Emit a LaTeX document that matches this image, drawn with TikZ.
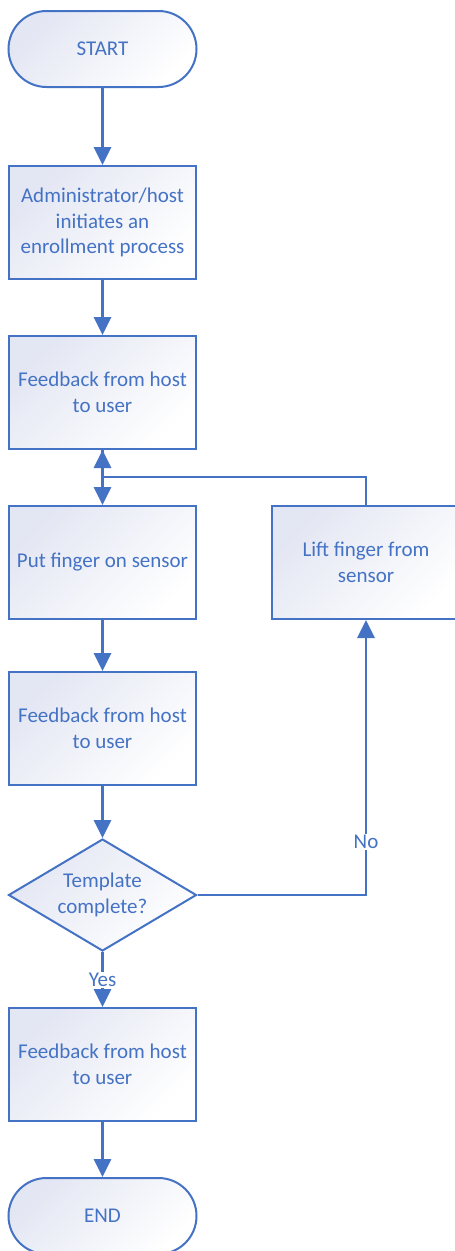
\documentclass[tikz,border=0pt]{standalone}
\usepackage{fontspec}
\setmainfont{Carlito}
\usetikzlibrary{arrows.meta,shapes.geometric}
\definecolor{ofblue}{HTML}{4472C4}
\definecolor{shadeA}{HTML}{E3E6F3}
\tikzset{
  base/.style={draw=ofblue, line width=2pt, text=ofblue, align=center,
    top color=shadeA, bottom color=white, shading angle=45,
    font=\fontsize{21}{25.6}\selectfont, inner sep=0pt},
  procbox/.style={base, rectangle, minimum width=187pt, minimum height=113pt},
  termbox/.style={base, rectangle, rounded corners=38pt, minimum width=188pt, minimum height=76pt},
  decbox/.style={base, diamond, aspect=1.68, minimum width=188pt, minimum height=112pt},
  conn/.style={draw=ofblue, line width=2.8pt, -{Triangle[length=18pt,width=17pt]}},
  plainconn/.style={draw=ofblue, line width=2.8pt},
  lbl/.style={fill=white, text=ofblue, font=\fontsize{21}{25.6}\selectfont, inner sep=1pt}
}
\begin{document}
\begin{tikzpicture}[x=1pt,y=-1pt]
\useasboundingbox (0,0) rectangle (455,1251);
\node[termbox] (start) at (102.5,49) {START};
\node[procbox] (b1) at (102.5,222.5) {Administrator/host\\initiates an\\enrollment process};
\node[procbox] (b2) at (102.5,392.5) {Feedback from host\\to user};
\node[procbox] (b3) at (102.5,562.5) {Put finger on sensor};
\node[procbox, minimum width=188pt] (lift) at (366,562.5) {Lift finger from\\sensor};
\node[procbox] (b5) at (102.5,728.5) {Feedback from host\\to user};
\node[decbox] (dec) at (102.5,895) {Template\\complete?};
\node[procbox] (b6) at (102.5,1064.5) {Feedback from host\\to user};
\node[termbox] (end) at (102.5,1216) {END};
\coordinate (junc) at (102.5,477);
\draw[conn] (start) -- (b1);
\draw[conn] (b1) -- (b2);
\draw[conn] (b2) -- (b3);
\draw[conn] (lift.north) |- (junc) -- (b2.south);
\draw[conn] (b3) -- (b5);
\draw[conn] (b5) -- (dec);
\draw[conn] (dec.east) -| (lift.south);
\draw[conn] (dec.south) -- (b6);
\draw[conn] (b6) -- (end);
\node[lbl] (no) at (366,842) {No};
\node[lbl] (yes) at (102.5,980) {Yes};
\end{tikzpicture}
\end{document}
